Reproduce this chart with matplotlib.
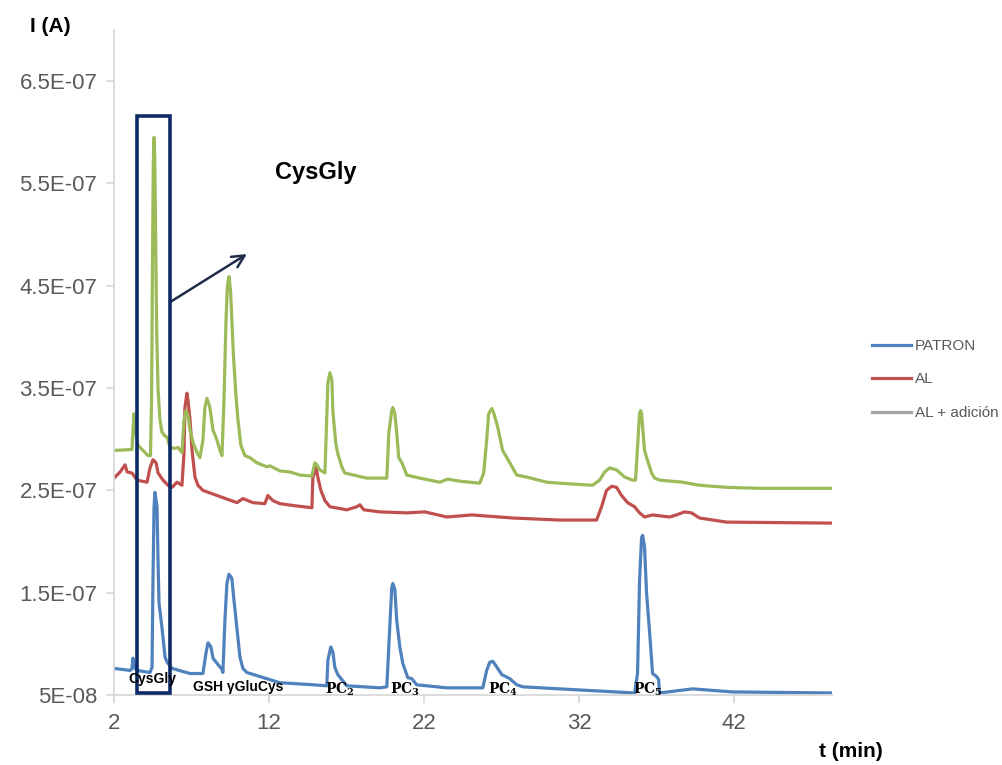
import matplotlib
matplotlib.use("Agg")
import matplotlib.pyplot as plt
from matplotlib.patches import Rectangle
from matplotlib.lines import Line2D
from matplotlib.ticker import FuncFormatter

plt.rcParams['font.family'] = ['Liberation Sans', 'DejaVu Sans']
plt.rcParams['mathtext.fontset'] = 'dejavuserif'

# Chromatograms: time (min) and current (nA)
patron_t = [2.00, 3.03, 3.16, 3.22, 3.35, 3.48, 4.32, 4.45, 4.51, 4.58, 4.64, 4.77, 4.84, 4.90,
            5.09, 5.29, 5.42, 5.74, 6.90, 7.73, 7.93, 8.06, 8.25, 8.38, 8.64, 8.96, 9.02, 9.15,
            9.28, 9.41, 9.60, 9.73, 9.92, 10.12, 10.31, 10.57, 11.41, 12.70, 14.82, 15.72, 15.79,
            15.98, 16.11, 16.24, 16.43, 16.69, 17.01, 19.14, 19.59, 19.78, 19.91, 19.98, 20.11,
            20.23, 20.43, 20.62, 20.94, 21.20, 21.52, 23.46, 25.78, 26.03, 26.23, 26.42, 26.61,
            27.00, 27.52, 27.97, 28.35, 30.74, 35.57, 35.76, 35.89, 36.02, 36.09, 36.21, 36.34,
            36.54, 36.73, 36.99, 37.12, 37.18, 39.31, 41.88, 48.33]
patron_i = [76, 74, 76, 86, 76, 74, 72, 77, 162, 234, 248, 234, 179, 140,
            116, 87, 82, 76, 71, 71, 91, 101, 97, 86, 81, 75, 72, 123,
            159, 168, 164, 143, 116, 87, 76, 72, 68, 62, 60, 59, 84,
            97, 92, 77, 70, 65, 59, 57, 58, 116, 155, 159, 153,
            123, 97, 81, 67, 66, 60, 57, 57, 74, 82, 83, 79,
            70, 66, 60, 58, 56, 52, 71, 162, 204, 206, 195, 150,
            111, 71, 68, 65, 52, 56, 53, 52]

al_t = [2.00, 2.39, 2.71, 2.84, 3.16, 3.48, 4.13, 4.32, 4.51, 4.71, 4.84, 5.16, 5.48, 5.74,
        6.06, 6.38, 6.51, 6.57, 6.70, 6.77, 6.90, 7.03, 7.22, 7.41, 7.73, 8.64, 9.93, 10.31,
        10.96, 11.73, 11.92, 12.24, 12.70, 13.66, 14.76, 14.82, 15.02, 15.14, 15.34, 15.60,
        15.92, 17.01, 17.66, 17.85, 18.11, 19.14, 20.88, 22.04, 23.46, 25.07, 27.71, 30.74,
        33.12, 33.44, 33.76, 34.09, 34.41, 34.73, 35.12, 35.57, 35.89, 36.21, 36.73, 37.82,
        38.27, 38.79, 39.24, 39.76, 41.50, 48.33]
al_i = [262, 268, 275, 268, 267, 260, 258, 272, 280, 277, 267, 260, 255, 253,
        258, 255, 286, 331, 345, 338, 319, 289, 263, 255, 250, 245, 238, 242,
        238, 237, 245, 240, 237, 235, 233, 262, 273, 263, 250, 240,
        234, 231, 234, 236, 231, 229, 228, 229, 224, 226, 223, 221,
        221, 234, 250, 254, 253, 245, 238, 234, 228, 224, 226, 224,
        226, 229, 228, 223, 219, 218]

adicion_t = [2.00, 3.16, 3.22, 3.29, 3.42, 3.55, 4.19, 4.35, 4.42, 4.48, 4.53, 4.58, 4.63, 4.69,
             4.75, 4.84, 4.96, 5.09, 5.29, 5.42, 5.61, 5.93, 6.12, 6.38, 6.51, 6.64, 6.77, 6.90,
             7.09, 7.35, 7.54, 7.73, 7.86, 7.99, 8.18, 8.38, 8.64, 8.83, 8.96, 9.09, 9.22, 9.31,
             9.41, 9.51, 9.60, 9.70, 9.86, 9.99, 10.18, 10.44, 10.76, 11.21, 11.86, 12.05, 12.70,
             13.34, 13.98, 14.76, 14.95, 15.08, 15.27, 15.60, 15.79, 15.92, 16.05, 16.11, 16.30,
             16.43, 16.69, 16.88, 17.72, 18.30, 19.59, 19.72, 19.91, 19.98, 20.11, 20.23, 20.36,
             20.56, 20.88, 21.72, 23.01, 23.52, 24.29, 25.58, 25.84, 26.03, 26.16, 26.36, 26.48,
             26.74, 27.06, 27.52, 27.97, 28.61, 29.90, 30.74, 32.86, 33.31, 33.64, 33.96, 34.41,
             34.93, 35.44, 35.63, 35.76, 35.89, 35.96, 36.02, 36.21, 36.41, 36.67, 36.86, 37.18,
             38.66, 39.76, 41.50, 43.62, 48.33]
adicion_i = [289, 290, 309, 325, 304, 294, 284, 284, 338, 475, 568, 595, 572, 485,
             406, 348, 319, 307, 303, 302, 292, 291, 292, 287, 319, 328, 323, 309,
             297, 287, 282, 299, 331, 340, 331, 309, 299, 289, 284, 338, 416, 450,
             459, 446, 416, 382, 343, 319, 294, 284, 282, 277, 273, 274, 269,
             268, 265, 264, 277, 275, 270, 267, 355, 365, 358, 328, 296,
             286, 273, 267, 264, 262, 262, 306, 328, 331, 325, 306, 282,
             277, 265, 262, 258, 261, 259, 257, 267, 299, 325, 330, 326,
             312, 289, 277, 265, 263, 258, 257, 255, 260, 268, 272, 270,
             263, 260, 260, 292, 325, 328, 325, 289, 279, 267, 262, 260,
             258, 255, 253, 252, 252]

series_labels = ['PATRON', 'AL', 'AL + adición']
x_ticks = [2, 12, 22, 32, 42]
y_ticks = [5e-8, 1.5e-7, 2.5e-7, 3.5e-7, 4.5e-7, 5.5e-7, 6.5e-7]

NA = 1e-9
BLUE, RED, GREEN, GREY = '#4F81BD', '#C0504D', '#9BBB59', '#A5A5A5'
NAVY = '#0D2A66'
AXIS_GREY = '#D9D9D9'
TEXT_GREY = '#595959'

fig = plt.figure(figsize=(10.03, 7.65), dpi=100)
ax = fig.add_axes([0.1137, 0.0915, 0.7158, 0.8693])

lw = 2.3
for t, i, c in ((patron_t, patron_i, BLUE), (al_t, al_i, RED), (adicion_t, adicion_i, GREEN)):
    ax.plot(t, [v * NA for v in i], color=c, lw=lw, solid_joinstyle='round',
            solid_capstyle='round')

ax.set_xlim(2, 48.3)
ax.set_ylim(5e-8, 7e-7)
ax.set_xticks(x_ticks)
ax.set_yticks(y_ticks)


def sci_label(v, pos):
    m, e = f"{v:.1E}".split('E')
    if m.endswith('.0'):
        m = m[:-2]
    return f"{m}E{e}"


ax.yaxis.set_major_formatter(FuncFormatter(sci_label))

for side in ('top', 'right'):
    ax.spines[side].set_visible(False)
for side in ('left', 'bottom'):
    ax.spines[side].set_color(AXIS_GREY)
    ax.spines[side].set_linewidth(1.3)
ax.tick_params(axis='both', colors=AXIS_GREY, labelcolor=TEXT_GREY, labelsize=16,
               length=6, width=1.3, direction='out')
ax.tick_params(axis='x', pad=7)
ax.tick_params(axis='y', pad=6)

# Highlight box around the CysGly peak and the pointer to its label
ax.add_patch(Rectangle((3.48, 52 * NA), 2.13, 564 * NA, fill=False,
                       edgecolor=NAVY, lw=2.6, zorder=5, clip_on=False))
ax.annotate('', xy=(10.57, 481 * NA), xytext=(5.61, 434 * NA),
            arrowprops=dict(arrowstyle='->', color='#1F2D4A', lw=1.8,
                            mutation_scale=22, shrinkA=0, shrinkB=0))
ax.text(15.0, 561 * NA, 'CysGly', fontsize=17, fontweight='bold',
        ha='center', va='center', color='black')

# Peak names along the baseline
ax.text(4.45, 66 * NA, 'CysGly', fontsize=10, fontweight='bold', ha='center', va='center', zorder=6)
ax.text(10.0, 58 * NA, 'GSH γGluCys', fontsize=10, fontweight='bold', ha='center', va='center')
pc_pos = [(16.56, 2), (20.75, 3), (27.06, 4), (36.4, 5)]
for t, n in pc_pos:
    ax.text(t, 56 * NA, r'$\mathbf{PC_{%d}}$' % n, fontsize=10, ha='center', va='center')

fig.text(0.050, 0.965, 'I (A)', fontsize=15, fontweight='bold', ha='center', va='center')
fig.text(0.848, 0.017, 't (min)', fontsize=15, fontweight='bold', ha='center', va='center')

handles = [Line2D([], [], color=BLUE, lw=lw),
           Line2D([], [], color=RED, lw=lw),
           Line2D([], [], color=GREY, lw=lw)]
leg = fig.legend(handles, series_labels, loc='upper left', bbox_to_anchor=(0.869, 0.557),
                 frameon=False, fontsize=11, handlelength=2.6, handletextpad=0.25,
                 labelspacing=1.28, borderpad=0, borderaxespad=0)
for txt in leg.get_texts():
    txt.set_color(TEXT_GREY)

fig.savefig('out.png', dpi=100)
